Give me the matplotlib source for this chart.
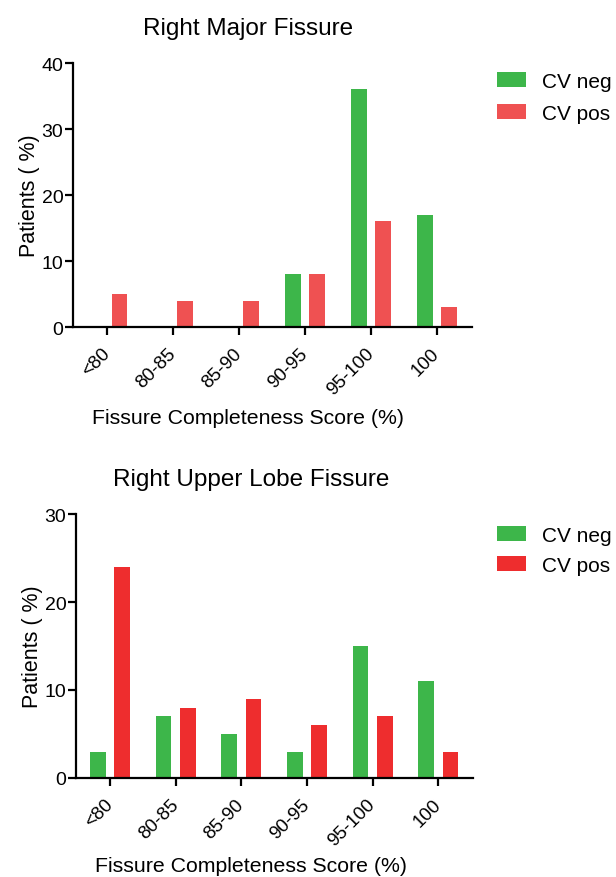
import numpy as np
import matplotlib
matplotlib.use("Agg")
import matplotlib.pyplot as plt

plt.rcParams['font.family'] = ['Liberation Sans', 'DejaVu Sans']

categories = ["<80", "80-85", "85-90", "90-95", "95-100", "100"]

major_cv_neg = [0, 0, 0, 8, 36, 17]
major_cv_pos = [5, 4, 4, 8, 16, 3]

upper_cv_neg = [3, 7, 5, 3, 15, 11]
upper_cv_pos = [24, 8, 9, 6, 7, 3]

green = "#3db64a"
red_major = "#ef5152"
red_upper = "#ee2d2e"


def draw_panel(ax, neg, pos, red, title, ymax, yticks, leg_top, leg_space, xpad):
    x = np.arange(len(categories))
    w = 0.24
    ax.bar(x - 0.185, neg, w, color=green, label="CV neg")
    ax.bar(x + 0.185, pos, w, color=red, label="CV pos")

    ax.set_xlim(-0.52, 5.53)
    ax.set_ylim(0, ymax)
    ax.set_yticks(yticks)
    ax.set_xticks(x)
    ax.set_xticklabels(categories, rotation=45, ha='right', va='center',
                       rotation_mode='anchor', fontsize=13.5)
    ax.tick_params(axis='y', labelsize=14, length=6, width=1.6, pad=1)
    ax.tick_params(axis='x', length=6, width=1.6, pad=11)

    for s in ['top', 'right']:
        ax.spines[s].set_visible(False)
    for s in ['left', 'bottom']:
        ax.spines[s].set_linewidth(1.6)

    ax.set_title(title, fontsize=17.5, pad=21, x=0.44)
    ax.set_ylabel("Patients ( %)", fontsize=15.5, labelpad=1)
    ax.set_xlabel("Fissure Completeness Score (%)", fontsize=15.3,
                  labelpad=xpad, x=0.44)
    ax.legend(loc='upper left', bbox_to_anchor=(497 / 616, 1 - leg_top / 878),
              bbox_transform=ax.figure.transFigure, frameon=False,
              fontsize=15, handlelength=1.4, handleheight=0.72,
              handletextpad=0.75, labelspacing=leg_space, borderpad=0,
              borderaxespad=0)


fig = plt.figure(figsize=(6.16, 8.78), dpi=100)

ax1 = fig.add_axes([0.1185, 0.6264, 0.6475, 0.3007])
draw_panel(ax1, major_cv_neg, major_cv_pos, red_major,
           "Right Major Fissure", 40, [0, 10, 20, 30, 40], 72.5, 0.64, 7)

ax2 = fig.add_axes([0.1234, 0.1128, 0.6445, 0.3006])
draw_panel(ax2, upper_cv_neg, upper_cv_pos, red_upper,
           "Right Upper Lobe Fissure", 30, [0, 10, 20, 30], 526.5, 0.54, 5)

fig.savefig("out.png", dpi=100)
